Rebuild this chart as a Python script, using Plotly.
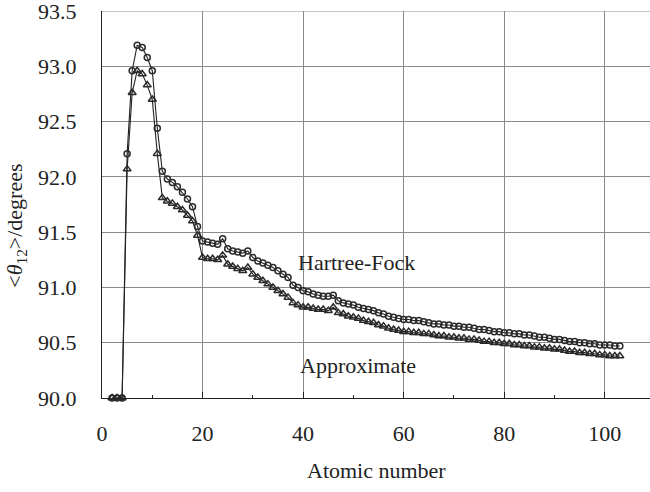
import plotly.graph_objects as go

atomic_number = list(range(2, 104))

hartree_fock = [
    90.00, 90.00, 90.00, 92.21, 92.96, 93.19, 93.17, 93.08, 92.96, 92.44,
    92.05, 91.98, 91.95, 91.91, 91.86, 91.80, 91.73, 91.55, 91.42, 91.41,
    91.40, 91.39, 91.44, 91.35, 91.33, 91.32, 91.31, 91.33, 91.27, 91.24,
    91.22, 91.20, 91.18, 91.15, 91.12, 91.09, 91.02, 91.00, 90.97, 90.96,
    90.94, 90.93, 90.92, 90.92, 90.93, 90.88, 90.86, 90.85, 90.84, 90.82,
    90.81, 90.80, 90.79, 90.77, 90.76, 90.74, 90.73, 90.72, 90.71, 90.71,
    90.70, 90.70, 90.69, 90.68, 90.67, 90.67, 90.66, 90.66, 90.65, 90.65,
    90.64, 90.64, 90.63, 90.62, 90.62, 90.61, 90.60, 90.60, 90.59, 90.59,
    90.58, 90.58, 90.57, 90.57, 90.56, 90.55, 90.55, 90.54, 90.53, 90.53,
    90.52, 90.51, 90.51, 90.50, 90.50, 90.49, 90.49, 90.48, 90.48, 90.48,
    90.47, 90.47,
]

approximate = [
    90.00, 90.00, 90.00, 92.07, 92.76, 92.96, 92.93, 92.83, 92.70, 92.21,
    91.81, 91.78, 91.76, 91.73, 91.70, 91.65, 91.60, 91.47, 91.27, 91.26,
    91.26, 91.25, 91.29, 91.21, 91.19, 91.17, 91.15, 91.18, 91.12, 91.09,
    91.06, 91.03, 91.00, 90.97, 90.94, 90.91, 90.86, 90.84, 90.82, 90.82,
    90.81, 90.80, 90.80, 90.79, 90.82, 90.77, 90.76, 90.74, 90.73, 90.72,
    90.70, 90.69, 90.68, 90.66, 90.65, 90.63, 90.62, 90.61, 90.60, 90.60,
    90.59, 90.59, 90.58, 90.58, 90.57, 90.56, 90.56, 90.55, 90.55, 90.54,
    90.54, 90.53, 90.53, 90.52, 90.51, 90.51, 90.50, 90.50, 90.49, 90.49,
    90.48, 90.48, 90.47, 90.47, 90.46, 90.46, 90.45, 90.45, 90.44, 90.44,
    90.43, 90.42, 90.42, 90.41, 90.41, 90.40, 90.40, 90.39, 90.39, 90.38,
    90.38, 90.38,
]

x_ticks = [0, 20, 40, 60, 80, 100]
y_ticks = [90.0, 90.5, 91.0, 91.5, 92.0, 92.5, 93.0, 93.5]

FONT = "Liberation Serif"
FS = 22
Y_RANGE = [90.0, 93.5001]

fig = go.Figure()
fig.add_trace(go.Scatter(
    x=atomic_number, y=approximate, mode="lines+markers",
    line=dict(color="#222", width=1.1),
    marker=dict(symbol="triangle-up-open", size=7, color="#2a2a2a",
                line=dict(width=1.5)),
    showlegend=False, cliponaxis=False,
))
fig.add_trace(go.Scatter(
    x=atomic_number, y=hartree_fock, mode="lines+markers",
    line=dict(color="#222", width=1.1),
    marker=dict(symbol="circle-open", size=6, color="#2a2a2a",
                line=dict(width=1.5)),
    showlegend=False, cliponaxis=False,
))

fig.update_layout(
    width=650, height=492,
    margin=dict(l=102, r=0, t=11, b=94, autoexpand=False),
    paper_bgcolor="white", plot_bgcolor="white",
    font=dict(family=FONT, size=FS, color="#222"),
    xaxis=dict(
        range=[0, 109], tickvals=x_ticks, ticktext=[str(v) for v in x_ticks],
        showgrid=True, gridcolor="#8a8a8a", gridwidth=1,
        showline=True, linecolor="#222", linewidth=1.2,
        ticks="inside", ticklen=6, tickcolor="#222",
        minor=dict(tickvals=[10, 30, 50, 70, 90], ticks="inside", ticklen=3,
                   tickcolor="#222", showgrid=False),
        ticklabelstandoff=15, zeroline=False, automargin=False,
        ticklabeloverflow="allow",
        tickfont=dict(family=FONT, size=FS),
    ),
    yaxis=dict(
        range=Y_RANGE, tickvals=y_ticks,
        ticktext=[f"{v:.1f}" for v in y_ticks],
        showgrid=True, gridcolor="#8a8a8a", gridwidth=1,
        showline=True, linecolor="#222", linewidth=1.2,
        ticks="outside", ticklen=20, tickcolor="rgba(0,0,0,0)",
        zeroline=False, automargin=False,
        ticklabeloverflow="allow",
        tickfont=dict(family=FONT, size=FS),
    ),
    yaxis2=dict(
        range=Y_RANGE, tickvals=y_ticks, overlaying="y", side="left",
        showticklabels=False, showgrid=False, showline=False,
        ticks="inside", ticklen=6, tickcolor="#222",
        zeroline=False, automargin=False,
    ),
    shapes=[
        dict(type="line", xref="paper", yref="y", x0=0, x1=1, y0=93.5, y1=93.5,
             line=dict(color="#8a8a8a", width=1)),
    ],
    annotations=[
        dict(text="Atomic number", xref="paper", yref="paper", x=0.5, y=0,
             yshift=-72, showarrow=False, xanchor="center", yanchor="middle",
             font=dict(family=FONT, size=FS)),
        dict(text="&lt;<i>θ</i><sub>12</sub>&gt;/degrees", xref="paper",
             yref="paper", x=0, xshift=-86, y=0.445, textangle=-90,
             showarrow=False, xanchor="center", yanchor="middle",
             font=dict(family=FONT, size=FS)),
        dict(text="Hartree-Fock", xref="x", yref="y", x=50.6, y=91.225,
             showarrow=False, font=dict(family=FONT, size=FS)),
        dict(text="Approximate", xref="x", yref="y", x=50.9, y=90.29,
             showarrow=False, font=dict(family=FONT, size=FS)),
    ],
)

fig.write_html("out.html", config={"displayModeBar": False},
               post_script="document.body.style.margin='0';")
